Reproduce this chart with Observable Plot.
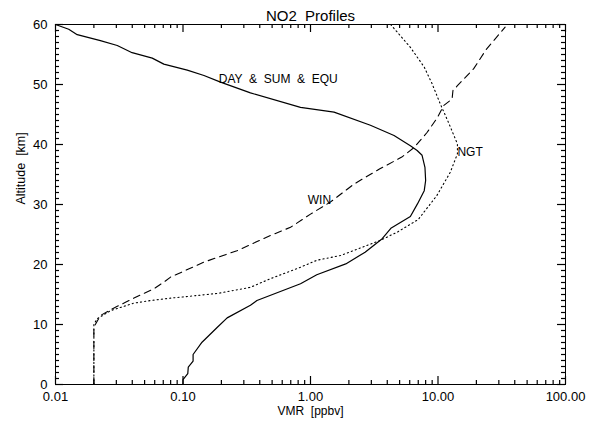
<!DOCTYPE html>
<html>
<head>
<meta charset="utf-8">
<script src="https://cdn.jsdelivr.net/npm/d3@7"></script>
<script src="https://cdn.jsdelivr.net/npm/@observablehq/plot@0.6"></script>
<style>
  html, body { margin: 0; padding: 0; background: #fff; }
</style>
</head>
<body>
<div id="chart"></div>
<script>
// ---- data ----
const dayAlt = [0, 0.8, 1.8, 2.9, 3.9, 5.0, 7.05, 9.55, 11.1, 13.2, 14, 16.8, 18.3, 20.1, 22.05, 24.3, 26.1, 28, 30.1, 32.3, 34, 36.2, 38.2, 39, 39.8, 41.5, 43.2, 45.4, 46.2, 48.6, 50.4, 51.5, 52.4, 53.4, 54.4, 55.3, 56.5, 57.3, 58.3, 59.2, 60];
const dayVmr = [0.100, 0.100, 0.109, 0.110, 0.120, 0.120, 0.141, 0.186, 0.222, 0.338, 0.38, 0.835, 1.12, 1.89, 2.68, 3.65, 4.3, 6.07, 6.9, 7.8, 8.0, 7.9, 7.5, 6.86, 6.07, 4.52, 2.95, 1.53, 0.835, 0.338, 0.197, 0.146, 0.108, 0.0707, 0.0574, 0.0399, 0.0305, 0.0225, 0.0148, 0.0127, 0.0100];

const winAlt = [0, 9.55, 11.5, 12.6, 13.7, 14.8, 15.95, 17.05, 17.9, 20.4, 22.3, 24.8, 26.2, 28.4, 30.4, 33.4, 35.95, 37.9, 39.5, 42, 44.5, 46.5, 47.6, 49, 49.8, 52.6, 55.95, 59.55];
const winVmr = [0.02, 0.02, 0.0225, 0.0278, 0.0354, 0.045, 0.059, 0.0707, 0.0799, 0.146, 0.265, 0.48, 0.697, 1.0, 1.43, 2.19, 3.5, 5.2, 6.5, 8.2, 9.9, 11.1, 12.9, 13.1, 14.2, 19.0, 24.1, 33.6];

const ngtAlt = [0, 10, 10.95, 12.3, 13.55, 14, 14.4, 14.6, 15.2, 16.2, 17.6, 19.55, 20.7, 21.5, 24, 25.4, 27.5, 31.5, 35.4, 38.45, 40.1, 44, 46.8, 50.1, 52.9, 56.2, 60];
const ngtVmr = [0.02, 0.02, 0.0212, 0.027, 0.041, 0.056, 0.08, 0.101, 0.19, 0.338, 0.48, 0.835, 1.12, 1.72, 3.5, 4.8, 7.0, 9.8, 12.5, 14.2, 14.2, 11.9, 10.4, 9.0, 7.8, 6.07, 4.25];

const labelText = ["DAY \u00A0&\u00A0 SUM \u00A0&\u00A0 EQU", "WIN", "NGT"];
const labelVmr = [0.191, 0.952, 14.2];
const labelAlt = [50.95, 30.8, 38.7];

const xMajor = [0.01, 0.1, 1, 10, 100];
const xTickLabels = ["0.01", "0.10", "1.00", "10.00", "100.00"];
const yMajor = [0, 10, 20, 30, 40, 50, 60];
const yTickLabels = ["0", "10", "20", "30", "40", "50", "60"];

const titleText = "NO2 \u00A0Profiles";
const xTitle = "VMR \u00A0[ppbv]";
const yTitle = "Altitude \u00A0[km]";

// ---- build tables ----
const toRows = (alts, vals) => alts.map((a, i) => ({alt: a, vmr: vals[i]}));
const day = toRows(dayAlt, dayVmr);
const win = toRows(winAlt, winVmr);
const ngt = toRows(ngtAlt, ngtVmr);
const labels = labelText.map((t, i) => ({t, vmr: labelVmr[i], alt: labelAlt[i]}));

const isMajorX = d => xMajor.some(m => Math.abs(m - d) / m < 1e-9);
const xMinor = d3.scaleLog().domain([0.01, 100]).ticks().filter(d => !isMajorX(d));
const yMinor = d3.range(0, 61, 1).filter(d => d % 10 !== 0);

const W = 605, H = 427, mL = 55, mR = 40, mT = 24, mB = 43;
const fw = W - mL - mR, fh = H - mT - mB;
const tMaj = 8, tMin = 4;
const font = "Liberation Sans, Arial, sans-serif";

const chart = Plot.plot({
  width: W,
  height: H,
  marginLeft: mL,
  marginRight: mR,
  marginTop: mT,
  marginBottom: mB,
  x: {type: "log", domain: [0.01, 100], axis: null},
  y: {domain: [0, 60], axis: null},
  marks: [
    Plot.frame({stroke: "black"}),
    // inward ticks on all four sides (frame-spanning ticks trimmed by insets)
    Plot.tickX(xMinor, {stroke: "black", strokeWidth: 1.2, insetTop: fh - tMin}),
    Plot.tickX(xMajor, {stroke: "black", strokeWidth: 1.2, insetTop: fh - tMaj}),
    Plot.tickX(xMinor, {stroke: "black", strokeWidth: 1.2, insetBottom: fh - tMin}),
    Plot.tickX(xMajor, {stroke: "black", strokeWidth: 1.2, insetBottom: fh - tMaj}),
    Plot.tickY(yMinor, {stroke: "black", strokeWidth: 1.2, insetRight: fw - tMin}),
    Plot.tickY(yMajor, {stroke: "black", strokeWidth: 1.2, insetRight: fw - tMaj}),
    Plot.tickY(yMinor, {stroke: "black", strokeWidth: 1.2, insetLeft: fw - tMin}),
    Plot.tickY(yMajor, {stroke: "black", strokeWidth: 1.2, insetLeft: fw - tMaj}),
    // tick labels
    Plot.axisX(xMajor, {anchor: "bottom", tickFormat: d => xTickLabels[xMajor.findIndex(m => Math.abs(m - d) / m < 1e-9)], tickSize: 0, tickPadding: 7, label: null, fontSize: 13, fontFamily: font}),
    Plot.axisY(yMajor, {anchor: "left", tickFormat: d => yTickLabels[yMajor.indexOf(d)], tickSize: 0, tickPadding: 8, label: null, fontSize: 13, fontFamily: font}),
    // axis titles and title
    Plot.text([xTitle], {text: d => d, frameAnchor: "bottom", dy: 30, fontSize: 12, fontFamily: font}),
    Plot.text([yTitle], {text: d => d, frameAnchor: "left", rotate: -90, dx: -35, fontSize: 12.5, fontFamily: font}),
    Plot.text([titleText], {text: d => d, frameAnchor: "top", dy: -14, fontSize: 15, fontFamily: font}),
    // profiles
    Plot.line(day, {x: "vmr", y: "alt", stroke: "black", strokeWidth: 1.2}),
    Plot.line(win, {x: "vmr", y: "alt", stroke: "black", strokeWidth: 1.1, strokeDasharray: "7,5"}),
    Plot.line(ngt, {x: "vmr", y: "alt", stroke: "black", strokeWidth: 1.1, strokeDasharray: "1.2,3"}),
    // curve labels
    Plot.text(labels, {x: "vmr", y: "alt", text: "t", textAnchor: "start", fontSize: 12, fontFamily: font})
  ]
});
document.getElementById("chart").appendChild(chart);
</script>
</body>
</html>
